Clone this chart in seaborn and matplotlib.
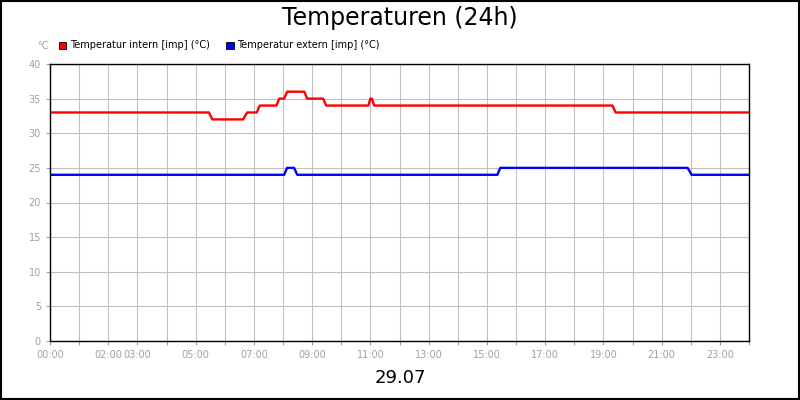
import matplotlib
matplotlib.use('Agg')
import matplotlib.pyplot as plt
import seaborn as sns
import pandas as pd
from matplotlib.patches import Rectangle

# breakpoints (hours, degC)
intern_h = [0, 5.46, 5.57, 6.63, 6.77, 7.1, 7.2, 7.77, 7.87, 8.04, 8.14, 8.73, 8.83, 9.38,
            9.48, 10.93, 11.0, 11.05, 11.13, 19.31, 19.42, 24]
intern_t = [33, 33, 32, 32, 33, 33, 34, 34, 35, 35, 36, 36, 35, 35,
            34, 34, 35, 35, 34, 34, 33, 33]
extern_h = [0, 8.04, 8.14, 8.38, 8.49, 15.36, 15.46, 21.89, 22.03, 24]
extern_t = [24, 24, 25, 25, 24, 24, 25, 25, 24, 24]

tick_hours = [0, 2, 3, 5, 7, 9, 11, 13, 15, 17, 19, 21, 23]
tick_labels = ['00:00', '02:00', '03:00', '05:00', '07:00', '09:00', '11:00',
               '13:00', '15:00', '17:00', '19:00', '21:00', '23:00']

sns.set_style('white')
plt.rcParams['font.family'] = ['DejaVu Sans']
plt.rcParams['text.color'] = 'black'

df = pd.concat([
    pd.DataFrame({'h': intern_h, 't': intern_t, 's': 'Temperatur intern [imp] (°C)'}),
    pd.DataFrame({'h': extern_h, 't': extern_t, 's': 'Temperatur extern [imp] (°C)'}),
])

fig = plt.figure(figsize=(8, 4), dpi=100)
ax = fig.add_axes([0.0625, 0.1475, 0.8738, 0.6925])
sns.lineplot(data=df, x='h', y='t', hue='s', palette=['#ff0000', '#0000ff'],
             linewidth=1.7, legend=False, ax=ax, sort=False, estimator=None)

ax.set_xlim(0, 24)
ax.set_ylim(0, 40)
ax.set_xticks(range(25))
ax.set_xticklabels([tick_labels[tick_hours.index(h)] if h in tick_hours else '' for h in range(25)])
ax.set_yticks(range(0, 41, 5))
ax.grid(True, color='#c0c0c0', linewidth=0.8)
ax.tick_params(colors='#a0a0a0', labelsize=7, length=3, direction='out', bottom=True, left=True)
for sp in ax.spines.values():
    sp.set_color('black')
    sp.set_linewidth(1)
ax.set_xlabel('')
ax.set_ylabel('')

fig.text(0.5, 0.955, 'Temperaturen (24h)', ha='center', va='center', fontsize=17, color='black')
fig.text(0.5, 0.055, '29.07', ha='center', va='center', fontsize=13, color='black')
fig.text(0.047, 0.885, '°C', ha='left', va='center', fontsize=7, color='#a0a0a0')

# legend
for x0, col, lab in [(0.074, '#ff0000', 'Temperatur intern [imp] (°C)'),
                     (0.283, '#0000ff', 'Temperatur extern [imp] (°C)')]:
    fig.patches.append(Rectangle((x0, 0.878), 0.009, 0.018, transform=fig.transFigure,
                                 facecolor=col, edgecolor='black', linewidth=0.6))
    fig.text(x0 + 0.013, 0.887, lab, ha='left', va='center', fontsize=7, color='black')

fig.patches.append(Rectangle((0.001, 0.002), 0.998, 0.996, transform=fig.transFigure,
                             fill=False, edgecolor='black', linewidth=1.5))
fig.savefig('out.png', dpi=100)
